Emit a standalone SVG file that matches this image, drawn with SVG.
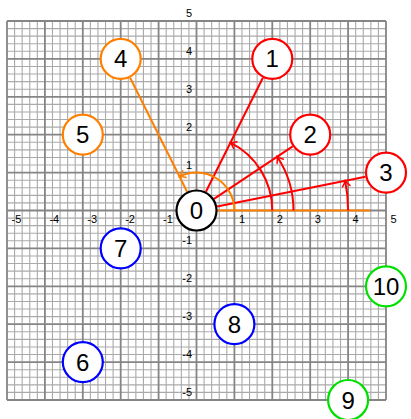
<svg xmlns="http://www.w3.org/2000/svg" width="411" height="419" viewBox="0 0 411 419">
<defs>
<style>
.minor{fill:none;stroke:#aaaaaa;stroke-width:1.1}
.major{fill:none;stroke:#858585;stroke-width:1.8}
.lbl{font-family:"Liberation Sans",Arial,sans-serif;font-size:11px;fill:#000}
.xl{text-anchor:start}
.yl{text-anchor:end}
.node circle{fill:#fff;stroke-width:2.2}
.node text{font-family:"Liberation Sans",Arial,sans-serif;font-size:24px;text-anchor:middle;fill:#000}
.red{stroke:#ff0000}
.orange{stroke:#ff8000}
.blue{stroke:#0000ff}
.green{stroke:#00e000}
.black{stroke:#000}
.edge{fill:none;stroke-width:2}
</style>
<marker id="ar" viewBox="-7 -5 9 10" refX="0" refY="0" markerWidth="9" markerHeight="10" markerUnits="userSpaceOnUse" orient="auto">
<path d="M-5.5,-3.8 Q-2,-0.8 0,0 Q-2,0.8 -5.5,3.8" fill="none" stroke="#ff0000" stroke-width="1.5" stroke-linecap="round"/>
</marker>
<marker id="ao" viewBox="-7 -5 9 10" refX="0" refY="0" markerWidth="9" markerHeight="10" markerUnits="userSpaceOnUse" orient="auto">
<path d="M-5.5,-3.8 Q-2,-0.8 0,0 Q-2,0.8 -5.5,3.8" fill="none" stroke="#ff8000" stroke-width="1.5" stroke-linecap="round"/>
</marker>
</defs>
<rect width="411" height="419" fill="#fff"/>
<g id="grid" transform="translate(196.5,210.5) scale(37.9)">
<path class="minor" vector-effect="non-scaling-stroke" d="M-4.8 -5V5M-4.6 -5V5M-4.4 -5V5M-4.2 -5V5M-3.8 -5V5M-3.6 -5V5M-3.4 -5V5M-3.2 -5V5M-2.8 -5V5M-2.6 -5V5M-2.4 -5V5M-2.2 -5V5M-1.8 -5V5M-1.6 -5V5M-1.4 -5V5M-1.2 -5V5M-0.8 -5V5M-0.6 -5V5M-0.4 -5V5M-0.2 -5V5M0.2 -5V5M0.4 -5V5M0.6 -5V5M0.8 -5V5M1.2 -5V5M1.4 -5V5M1.6 -5V5M1.8 -5V5M2.2 -5V5M2.4 -5V5M2.6 -5V5M2.8 -5V5M3.2 -5V5M3.4 -5V5M3.6 -5V5M3.8 -5V5M4.2 -5V5M4.4 -5V5M4.6 -5V5M4.8 -5V5
M-5 -4.8H5M-5 -4.6H5M-5 -4.4H5M-5 -4.2H5M-5 -3.8H5M-5 -3.6H5M-5 -3.4H5M-5 -3.2H5M-5 -2.8H5M-5 -2.6H5M-5 -2.4H5M-5 -2.2H5M-5 -1.8H5M-5 -1.6H5M-5 -1.4H5M-5 -1.2H5M-5 -0.8H5M-5 -0.6H5M-5 -0.4H5M-5 -0.2H5M-5 0.2H5M-5 0.4H5M-5 0.6H5M-5 0.8H5M-5 1.2H5M-5 1.4H5M-5 1.6H5M-5 1.8H5M-5 2.2H5M-5 2.4H5M-5 2.6H5M-5 2.8H5M-5 3.2H5M-5 3.4H5M-5 3.6H5M-5 3.8H5M-5 4.2H5M-5 4.4H5M-5 4.6H5M-5 4.8H5"/>
<path class="major" vector-effect="non-scaling-stroke" d="M-5 -5V5M-4 -5V5M-3 -5V5M-2 -5V5M-1 -5V5M0 -5V5M1 -5V5M2 -5V5M3 -5V5M4 -5V5M5 -5V5
M-5 -5H5M-5 -4H5M-5 -3H5M-5 -2H5M-5 -1H5M-5 0H5M-5 1H5M-5 2H5M-5 3H5M-5 4H5M-5 5H5"/>
</g>
<g id="axis-labels" class="lbl">
<text class="xl" x="11.5" y="223">-5</text>
<text class="xl" x="49.4" y="223">-4</text>
<text class="xl" x="87.3" y="223">-3</text>
<text class="xl" x="125.2" y="223">-2</text>
<text class="xl" x="163.1" y="223">-1</text>
<text class="xl" x="238.9" y="223">1</text>
<text class="xl" x="276.8" y="223">2</text>
<text class="xl" x="314.7" y="223">3</text>
<text class="xl" x="352.6" y="223">4</text>
<text class="xl" x="390.5" y="223">5</text>
<text class="yl" x="192" y="17">5</text>
<text class="yl" x="192" y="55">4</text>
<text class="yl" x="192" y="92.8">3</text>
<text class="yl" x="192" y="130.7">2</text>
<text class="yl" x="192" y="168.6">1</text>
<text class="yl" x="192" y="244.4">-1</text>
<text class="yl" x="192" y="282.3">-2</text>
<text class="yl" x="192" y="320.2">-3</text>
<text class="yl" x="192" y="358.1">-4</text>
<text class="yl" x="192" y="396">-5</text>
</g>
<g id="connectors">
<line class="edge orange" x1="217.5" y1="210.5" x2="370" y2="210.5"/>
<line class="edge red" x1="205.9" y1="191.7" x2="262.9" y2="77.7"/>
<line class="edge red" x1="214" y1="198.85" x2="292.7" y2="146.35"/>
<line class="edge red" x1="217.1" y1="206.4" x2="365.4" y2="176.7"/>
<line class="edge orange" x1="187.1" y1="191.7" x2="130.1" y2="77.7"/>
<path class="edge orange" d="M234.4 210.5A37.9 37.9 0 0 0 179.55 176.6" marker-end="url(#ao)"/>
<path class="edge red" d="M272.3 210.5A75.8 75.8 0 0 0 230.4 142.7" marker-end="url(#ar)"/>
<path class="edge red" d="M293.5 210.5A97 97 0 0 0 277.2 156.7" marker-end="url(#ar)"/>
<path class="edge red" d="M348.1 210.5A151.6 151.6 0 0 0 345.16 180.77" marker-end="url(#ar)"/>
</g>
<g id="node0" class="node"><circle class="black" cx="196.5" cy="210.5" r="20"/><text x="196.5" y="219">0</text></g>
<g id="node1" class="node"><circle class="red" cx="272.3" cy="58.9" r="20"/><text x="272.3" y="67.4">1</text></g>
<g id="node2" class="node"><circle class="red" cx="310.2" cy="134.7" r="20"/><text x="310.2" y="143.2">2</text></g>
<g id="node3" class="node"><circle class="red" cx="386" cy="172.6" r="20"/><text x="386" y="181.1">3</text></g>
<g id="node4" class="node"><circle class="orange" cx="120.7" cy="58.9" r="20"/><text x="120.7" y="67.4">4</text></g>
<g id="node5" class="node"><circle class="orange" cx="82.8" cy="134.7" r="20"/><text x="82.8" y="143.2">5</text></g>
<g id="node6" class="node"><circle class="blue" cx="82.8" cy="362.1" r="20"/><text x="82.8" y="370.6">6</text></g>
<g id="node7" class="node"><circle class="blue" cx="120.7" cy="248.4" r="20"/><text x="120.7" y="256.9">7</text></g>
<g id="node8" class="node"><circle class="blue" cx="234.4" cy="324.2" r="20"/><text x="234.4" y="332.7">8</text></g>
<g id="node9" class="node"><circle class="green" cx="348.1" cy="400" r="20"/><text x="348.1" y="408.5">9</text></g>
<g id="node10" class="node"><circle class="green" cx="386" cy="286.3" r="20"/><text x="386" y="294.8">10</text></g>
</svg>
